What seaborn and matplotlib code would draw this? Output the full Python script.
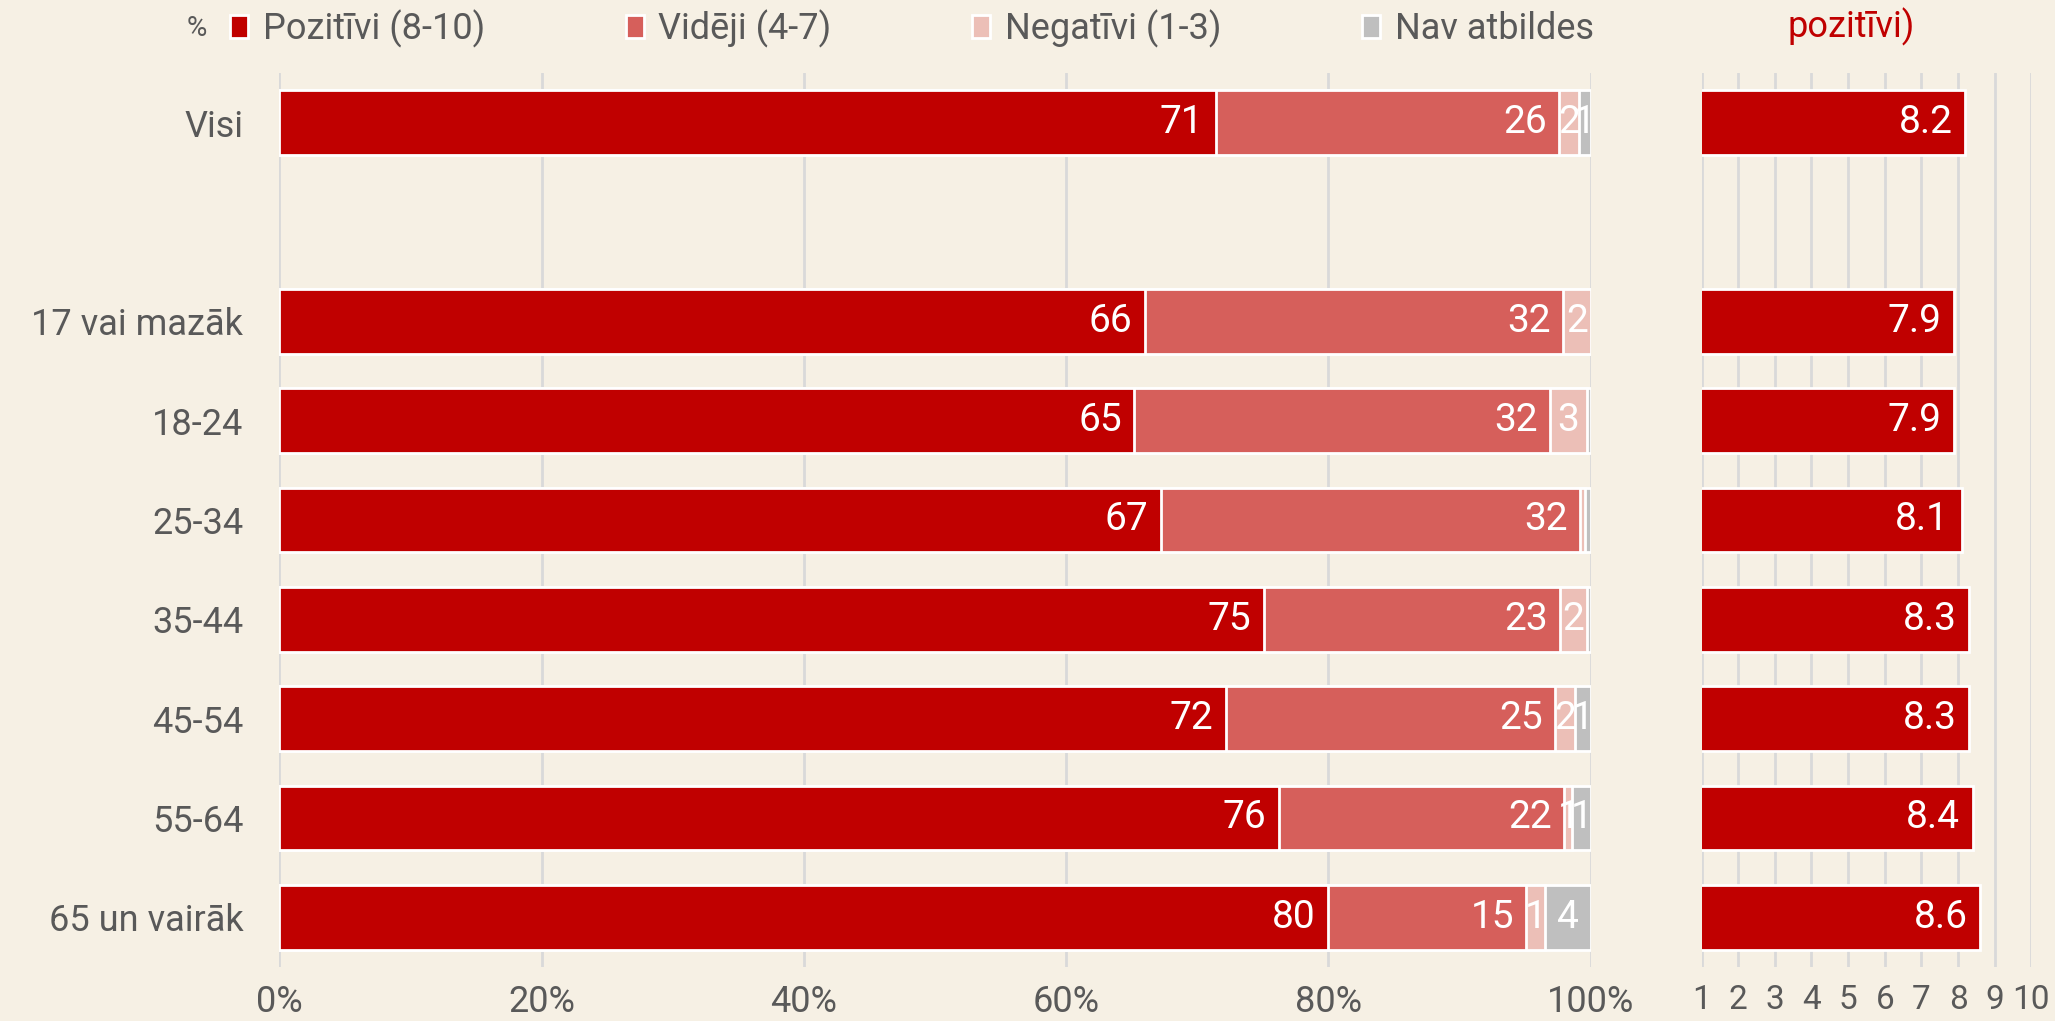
import matplotlib
matplotlib.use("Agg")
import matplotlib.pyplot as plt
import seaborn as sns
import pandas as pd
import numpy as np
from matplotlib.patches import Patch

# data
groups = ["Visi", "17 vai mazāk", "18-24", "25-34", "35-44", "45-54", "55-64", "65 un vairāk"]
order = ["Visi", " ", "17 vai mazāk", "18-24", "25-34", "35-44", "45-54", "55-64", "65 un vairāk"]
series = ["Pozitīvi (8-10)", "Vidēji (4-7)", "Negatīvi (1-3)", "Nav atbildes"]
pozitivi = [71.4, 66.0, 65.2, 67.2, 75.1, 72.2, 76.2, 80.0]
videji = [26.2, 31.9, 31.7, 32.0, 22.6, 25.1, 21.8, 15.1]
negativi = [1.5, 2.1, 2.8, 0.4, 2.0, 1.5, 0.6, 1.4]
nav_atbildes = [0.9, 0.0, 0.3, 0.4, 0.3, 1.2, 1.4, 3.5]
videjais = [8.2, 7.9, 7.9, 8.1, 8.3, 8.3, 8.4, 8.6]

colors = ["#C00000", "#D65F5B", "#ECBFB7", "#BFBFBF"]
bg = "#F6F0E4"
txt = "#595959"

sns.set_theme(style="white")
plt.rcParams["font.family"] = ["Roboto", "DejaVu Sans"]
plt.rcParams["text.color"] = txt
plt.rcParams["xtick.color"] = txt
plt.rcParams["ytick.color"] = txt

vals = [pozitivi, videji, negativi, nav_atbildes]
cum = np.cumsum(np.array(vals), axis=0)
rows = []
for i, s in enumerate(series):
    for j, g in enumerate(groups):
        rows.append({"group": g, "series": s, "value": vals[i][j], "cum": cum[i][j]})
df = pd.DataFrame(rows)

fig = plt.figure(figsize=(20.55, 10.21), dpi=100, facecolor=bg)
ax = fig.add_axes([0.136, 0.053, 0.638, 0.8755], facecolor=bg)
ax2 = fig.add_axes([0.828, 0.053, 0.1605, 0.8755], facecolor=bg)

# stacked bars: draw cumulative totals from the back
for i in range(len(series) - 1, -1, -1):
    sub = df[df["series"] == series[i]]
    sns.barplot(data=sub, x="cum", y="group", order=order, color=colors[i],
                saturation=1, width=0.65, edgecolor="white", linewidth=2, ax=ax, zorder=3)

for _, r in df.iterrows():
    v = r["value"]
    if v < 0.5:
        continue
    y = order.index(r["group"])
    lbl = f"{v:.0f}"
    if v < 5:
        ax.text(r["cum"] - v / 2, y, lbl, ha="center", va="center", color="white", fontsize=28, zorder=5)
    else:
        ax.annotate(lbl, (r["cum"], y), xytext=(-9, 0), textcoords="offset points",
                    ha="right", va="center", color="white", fontsize=28, zorder=5)

ax.set_xlim(0, 100)
ax.set_ylim(8.5, -0.5)
ax.set_xticks(np.arange(0, 101, 20))
ax.set_xticklabels([f"{t}%" for t in range(0, 101, 20)])
ax.grid(axis="x", color="#D9D9D9", lw=2)
ax.set_axisbelow(True)
ax.set_xlabel("")
ax.set_ylabel("")
ax.tick_params(axis="both", length=0, labelsize=26)
ax.tick_params(axis="y", pad=26)
ax.tick_params(axis="x", pad=12)
for sp in ax.spines.values():
    sp.set_visible(False)

# average score panel
sns.barplot(x=videjais, y=groups, order=order, color=colors[0], saturation=1, width=0.65,
            edgecolor="white", linewidth=2, ax=ax2, zorder=3)
for j, g in enumerate(groups):
    ax2.annotate(f"{videjais[j]:.1f}", (videjais[j], order.index(g)), xytext=(-9, 0),
                 textcoords="offset points", ha="right", va="center", color="white", fontsize=28, zorder=5)
ax2.set_xlim(1, 10)
ax2.set_ylim(8.5, -0.5)
ax2.set_xticks(range(1, 11))
ax2.grid(axis="x", color="#D9D9D9", lw=2)
ax2.set_axisbelow(True)
ax2.set_yticklabels([])
ax2.set_xlabel("")
ax2.set_ylabel("")
ax2.tick_params(axis="both", length=0, labelsize=24)
ax2.tick_params(axis="x", pad=12)
for sp in ax2.spines.values():
    sp.set_visible(False)

# legend
fig.text(0.096, 0.972, "%", fontsize=20, color=txt, ha="center", va="center")
handles = [Patch(facecolor=c, edgecolor="white", linewidth=2) for c in colors]
fig.legend(handles, series, loc="center left", bbox_to_anchor=(0.112, 0.972), ncol=4,
           frameon=False, fontsize=26, handlelength=0.5, handleheight=0.6,
           handletextpad=0.4, columnspacing=3.9, borderaxespad=0, borderpad=0)

fig.text(0.901, 0.974, "pozitīvi)", fontsize=26, color="#C00000", ha="center", va="center")

fig.savefig("out.png", dpi=100, facecolor=bg)
